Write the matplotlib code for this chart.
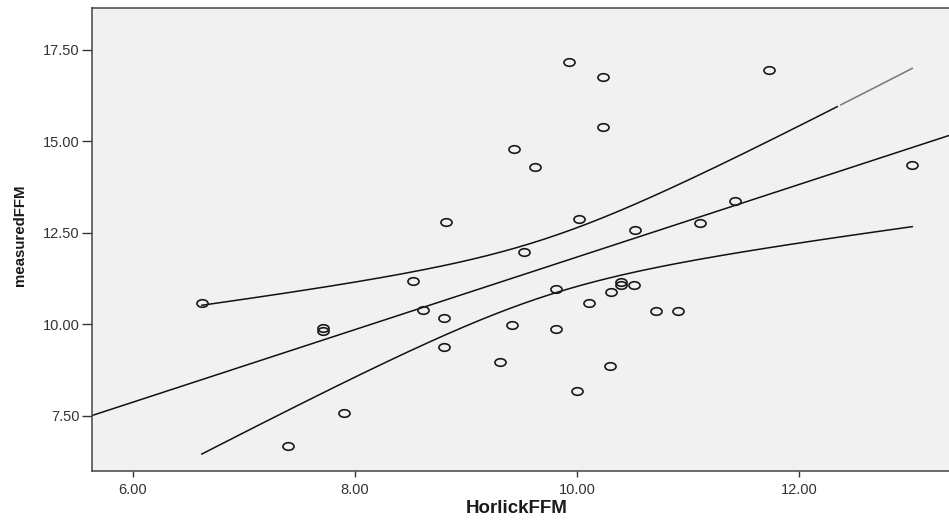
import numpy as np
import matplotlib.pyplot as plt
from matplotlib.path import Path

# HorlickFFM vs measuredFFM
horlick = [6.62, 7.40, 7.71, 7.71, 7.90, 8.52, 8.61, 8.80, 8.80, 9.41,
           9.31, 9.81, 9.81, 10.00, 10.11, 10.31, 10.30, 10.40, 10.40, 10.51,
           10.71, 10.91, 9.93, 10.23, 10.23, 9.43, 9.62, 8.82, 10.02, 9.52,
           10.52, 11.73, 13.02, 11.42, 11.11]
measured = [10.59, 6.68, 9.89, 9.80, 7.58, 11.18, 10.38, 10.17, 9.37, 9.98,
            8.97, 10.97, 9.87, 8.17, 10.57, 10.88, 8.87, 11.16, 11.07, 11.07,
            10.36, 10.36, 17.16, 16.75, 15.38, 14.78, 14.28, 12.78, 12.87, 11.98,
            12.57, 16.93, 14.36, 13.37, 12.77]

xticks = [6.0, 8.0, 10.0, 12.0]
yticks = [7.5, 10.0, 12.5, 15.0, 17.5]
t_crit = 2.0345  # t(0.975, df=33)

x = np.array(horlick)
y = np.array(measured)
n = len(x)
slope, intercept = np.polyfit(x, y, 1)
resid = y - (intercept + slope * x)
s = np.sqrt(np.sum(resid ** 2) / (n - 2))
sxx = np.sum((x - x.mean()) ** 2)

fig = plt.figure(figsize=(9.49, 5.21), dpi=100)
ax = fig.add_axes([0.097, 0.096, 0.903, 0.889])
ax.set_facecolor('#f1f1f1')

xlim = (5.631, 13.351)
ax.set_xlim(*xlim)
ax.set_ylim(5.99, 18.64)

# fit line over the full axis
xl = np.linspace(xlim[0], xlim[1], 50)
ax.plot(xl, intercept + slope * xl, color='#111111', lw=1.1, zorder=2)

# 95% confidence band for the mean
xb = np.linspace(x.min(), x.max(), 200)
hw = t_crit * s * np.sqrt(1 / n + (xb - x.mean()) ** 2 / sxx)
fit = intercept + slope * xb
cut = xb <= 12.37
ax.plot(xb[cut], (fit + hw)[cut], color='#111111', lw=1.1, zorder=2)
ax.plot(xb[xb >= 12.37], (fit + hw)[xb >= 12.37], color='#777777', lw=1.1, zorder=2)
ax.plot(xb, fit - hw, color='#111111', lw=1.1, zorder=2)

circ = Path.unit_circle()
ell = Path(circ.vertices * [1, 0.68], circ.codes)
ax.plot(x, y, linestyle='none', marker=ell, markersize=8, markerfacecolor='none',
        markeredgecolor='#1a1a1a', markeredgewidth=1.2, zorder=3)

ax.set_xticks(xticks)
ax.set_yticks(yticks)
ax.set_xticklabels(['%.2f' % v for v in xticks])
ax.set_yticklabels(['%.2f' % v for v in yticks])
for lab in ax.get_xticklabels() + ax.get_yticklabels():
    lab.set_fontfamily('Liberation Sans')
    lab.set_fontsize(10.5)
    lab.set_color('#333333')
ax.tick_params(axis='y', length=7.5, width=1, color='#333333', pad=1.5)
ax.tick_params(axis='x', length=4.5, width=1, color='#333333', pad=4)

for side in ['left', 'bottom', 'top']:
    ax.spines[side].set_color('#444444')
    ax.spines[side].set_linewidth(1.1)
ax.spines['right'].set_visible(False)

ax.set_xlabel('HorlickFFM', fontsize=13.5, fontweight='bold', color='#1a1a1a',
              family=['Liberation Sans'], va='center')
ax.xaxis.set_label_coords(0.496, -0.080)
ax.set_ylabel('measuredFFM', fontsize=10.8, fontweight='bold', color='#1a1a1a',
              family=['Liberation Sans'], va='center')
ax.yaxis.set_label_coords(-0.084, 0.51)

fig.savefig('out.png', dpi=100, facecolor='white')
